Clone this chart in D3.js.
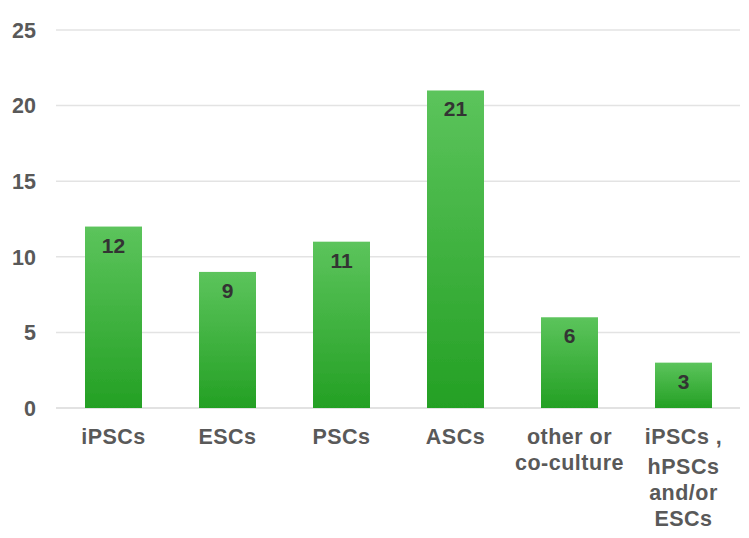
<!DOCTYPE html>
<html><head><meta charset="utf-8">
<script src="https://cdn.jsdelivr.net/npm/d3@7"></script>
<style>
html,body{margin:0;padding:0;background:#fff;}
svg text{font-family:"Liberation Sans",Arial,sans-serif;font-weight:bold;}
</style></head>
<body>
<svg id="chart" width="749" height="538"></svg>
<script>
const categories = [["iPSCs"],["ESCs"],["PSCs"],["ASCs"],["other or","co-culture"],["iPSCs ,","hPSCs","and/or","ESCs"]];
const values = [12, 9, 11, 21, 6, 3];
const yTicks = [0, 5, 10, 15, 20, 25];

const svg = d3.select("#chart");
const keys = categories.map((c,i)=>i);
const x = d3.scaleBand().domain(keys).range([56.5, 740.5]).paddingInner(0.5).paddingOuter(0.25);
const y = d3.scaleLinear().domain([0,25]).range([408, 30]);

const defs = svg.append("defs");
const grad = defs.append("linearGradient").attr("id","g").attr("x1",0).attr("y1",0).attr("x2",0).attr("y2",1);
grad.append("stop").attr("offset","0%").attr("stop-color","#5cc45c");
grad.append("stop").attr("offset","100%").attr("stop-color","#24a024");
const blur = defs.append("filter").attr("id","soft").attr("x","-10%").attr("y","-10%").attr("width","120%").attr("height","120%");
blur.append("feGaussianBlur").attr("stdDeviation",0.6);

// gridlines
svg.append("g").selectAll("line").data(yTicks).join("line")
  .attr("x1",56).attr("x2",740)
  .attr("y1",d=>y(d)).attr("y2",d=>y(d))
  .attr("stroke",d=>d===0?"#d9d9d9":"#e3e3e3").attr("stroke-width",1.5);

// y tick labels
svg.append("g").selectAll("text").data(yTicks).join("text")
  .attr("x",36).attr("y",d=>y(d)).attr("dy","0.36em")
  .attr("text-anchor","end").attr("font-size",21.5).attr("fill","#595959")
  .text(d=>d);

// bars
svg.append("g").selectAll("rect").data(values).join("rect")
  .attr("x",(d,i)=>x(i)).attr("width",x.bandwidth())
  .attr("y",d=>y(d)).attr("height",d=>y(0)-y(d))
  .attr("fill","url(#g)").attr("filter","url(#soft)");

// value labels
svg.append("g").selectAll("text").data(values).join("text")
  .attr("x",(d,i)=>x(i)+x.bandwidth()/2).attr("y",d=>y(d)+26)
  .attr("text-anchor","middle").attr("font-size",21).attr("fill","#333333")
  .text(d=>d);

// category labels
const cl = svg.append("g").selectAll("text").data(categories).join("text")
  .attr("x",(d,i)=>x(i)+x.bandwidth()/2).attr("y",444)
  .attr("text-anchor","middle").attr("font-size",21.5).attr("letter-spacing","0.5px").attr("fill","#595959");
cl.each(function(lines,i){
  const t = d3.select(this);
  lines.forEach((ln,j)=>{
    t.append("tspan").attr("x",x(i)+x.bandwidth()/2).attr("dy",j===0?0:(i===5&&j===1?30:26)).text(ln);
  });
});
</script>
</body></html>
